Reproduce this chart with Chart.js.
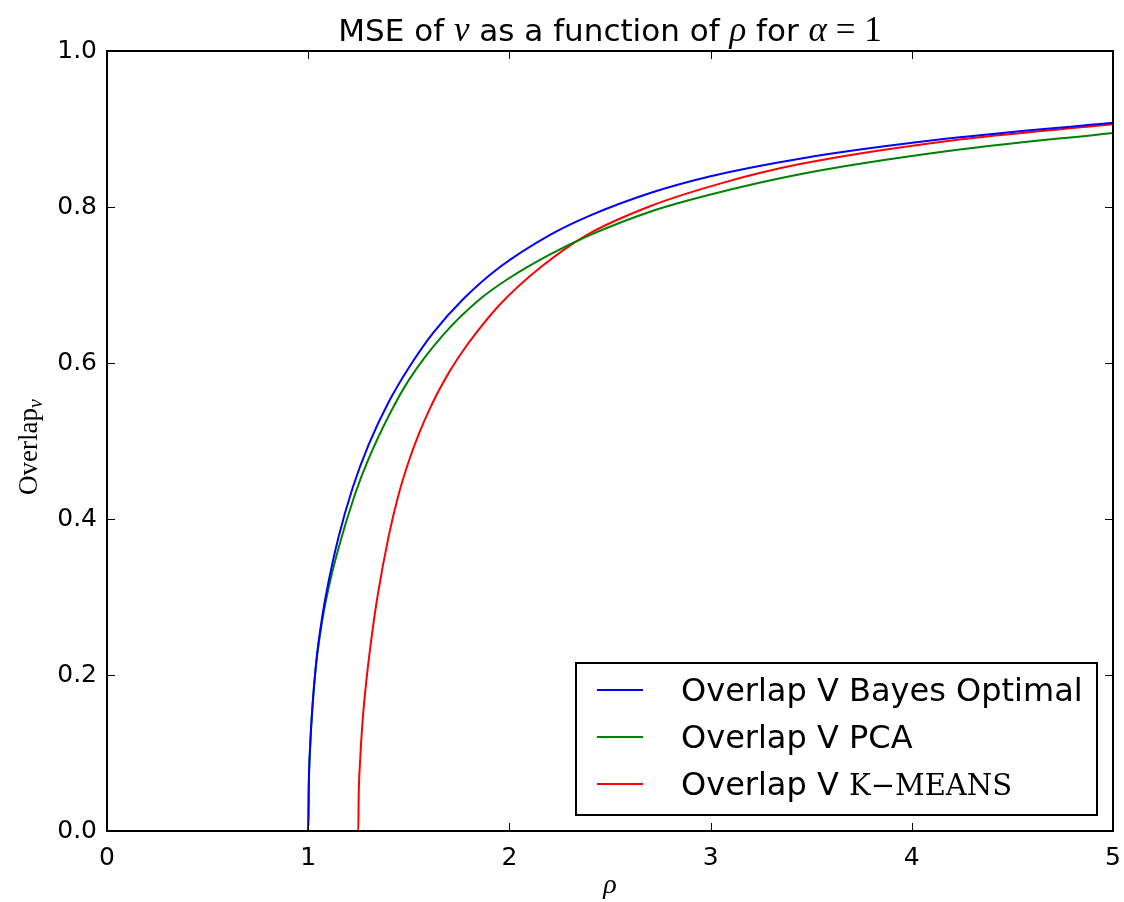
<!DOCTYPE html>
<html>
<head>
<meta charset="utf-8">
<script src="https://cdn.jsdelivr.net/npm/chart.js@4.4.1/dist/chart.umd.min.js"></script>
<style>
  html, body { margin: 0; padding: 0; background: #fff; }
  #wrap { width: 1124px; height: 902px; }
</style>
</head>
<body>
<div id="wrap"><canvas id="overlapChart" width="1124" height="902"></canvas></div>
<script>
const ctx = document.getElementById('overlapChart').getContext('2d');

// values
const xTicks = [0, 1, 2, 3, 4, 5];
const yTicks = [0.0, 0.2, 0.4, 0.6, 0.8, 1.0];

const bayesRho = [0, 1.0, 1.003, 1.01, 1.02, 1.04, 1.07, 1.1, 1.15, 1.221, 1.3, 1.4, 1.5, 1.622, 1.771, 1.953, 2.2, 2.4, 2.7, 3.0, 3.444, 4.19, 5.0];
const bayesVal = [0, 0, 0.06, 0.11, 0.155, 0.217, 0.275, 0.318, 0.376, 0.44, 0.495, 0.55, 0.594, 0.639, 0.682, 0.723, 0.764, 0.789, 0.818, 0.8395, 0.862, 0.888, 0.908];

const pcaRho = [0, 1.0, 1.003, 1.01, 1.02, 1.04, 1.07, 1.1, 1.15, 1.233, 1.3, 1.4, 1.5, 1.671, 1.854, 2.0, 2.2, 2.4, 2.7, 3.0, 3.444, 4.19, 5.0];
const pcaVal = [0, 0, 0.06, 0.11, 0.155, 0.215, 0.27, 0.31, 0.362, 0.432, 0.477, 0.532, 0.578, 0.636, 0.682, 0.709, 0.739, 0.764, 0.794, 0.816, 0.842, 0.872, 0.895];

const kmeansRho = [0, 1.249, 1.251, 1.257, 1.27, 1.29, 1.32, 1.344, 1.4, 1.45, 1.5, 1.55, 1.6, 1.65, 1.7, 1.768, 1.83, 1.953, 2.152, 2.384, 2.699, 3.047, 3.444, 4.19, 5.0];
const kmeansVal = [0, 0, 0.045, 0.085, 0.14, 0.195, 0.258, 0.3, 0.378, 0.432, 0.474, 0.509, 0.539, 0.565, 0.588, 0.615, 0.637, 0.675, 0.722, 0.764, 0.801, 0.83, 0.855, 0.885, 0.906];

const seriesLabels = ['Overlap V Bayes Optimal', 'Overlap V PCA', 'Overlap V '];
const seriesColors = ['#0000ff', '#008000', '#ff0000'];

const SANS = '"DejaVu Sans", sans-serif';
const SERIF = '"Liberation Serif", "DejaVu Serif", serif';

function pts(xs, ys) {
  return xs.map((x, i) => ({ x: x, y: ys[i] }));
}

// draw a run of text pieces in different fonts, starting at x
function drawRuns(c, runs, x, y) {
  runs.forEach(r => {
    c.font = r.font;
    c.fillText(r.text, x, y + (r.dy || 0));
    x += c.measureText(r.text).width;
  });
  return x;
}
function runsWidth(c, runs) {
  let w = 0;
  runs.forEach(r => { c.font = r.font; w += c.measureText(r.text).width; });
  return w;
}

const decorations = {
  id: 'decorations',
  afterDraw(chart) {
    const c = chart.ctx;
    const a = chart.chartArea;
    const xs = chart.scales.x, ys = chart.scales.y;
    c.save();

    // tick marks pointing inwards on all four sides
    c.strokeStyle = '#000';
    c.lineWidth = 1;
    const tl = 8;
    c.beginPath();
    xTicks.forEach(t => {
      const px = Math.round(xs.getPixelForValue(t)) + 0.5;
      c.moveTo(px, a.bottom); c.lineTo(px, a.bottom - tl);
      c.moveTo(px, a.top); c.lineTo(px, a.top + tl);
    });
    yTicks.forEach(t => {
      const py = Math.round(ys.getPixelForValue(t)) + 0.5;
      c.moveTo(a.left, py); c.lineTo(a.left + tl, py);
      c.moveTo(a.right, py); c.lineTo(a.right - tl, py);
    });
    c.stroke();

    // frame
    c.lineWidth = 2;
    c.strokeRect(a.left, a.top, a.right - a.left, a.bottom - a.top);

    // title with math pieces
    c.fillStyle = '#000';
    c.textBaseline = 'alphabetic';
    c.textAlign = 'left';
    const tf = '31px ' + SANS;
    const mf = 'italic 35px ' + SERIF;
    const rf = '35px ' + SERIF;
    const title = [
      { text: 'MSE of ', font: tf },
      { text: 'v', font: mf },
      { text: ' as a function of ', font: tf },
      { text: 'ρ', font: mf },
      { text: ' for ', font: tf },
      { text: 'α', font: mf },
      { text: ' = 1', font: rf }
    ];
    const tw = runsWidth(c, title);
    drawRuns(c, title, (a.left + a.right) / 2 - tw / 2, 41);

    // x axis title
    c.font = 'italic 28px ' + SERIF;
    c.textAlign = 'center';
    c.fillText('ρ', (a.left + a.right) / 2, 893);

    // y axis title, rotated
    c.save();
    c.translate(37, (a.top + a.bottom) / 2 + 6);
    c.rotate(-Math.PI / 2);
    const ylab = [
      { text: 'Overlap', font: '27px ' + SERIF },
      { text: 'v', font: 'italic 20px ' + SERIF, dy: 5 }
    ];
    c.textAlign = 'left';
    drawRuns(c, ylab, -runsWidth(c, ylab) / 2, 0);
    c.restore();

    // legend box in lower right
    const bx = 576, by = 663, bw = 521, bh = 152;
    c.fillStyle = '#fff';
    c.fillRect(bx, by, bw, bh);
    c.strokeStyle = '#000';
    c.lineWidth = 2;
    c.strokeRect(bx, by, bw, bh);
    const rows = [690, 737, 784];
    c.textAlign = 'left';
    rows.forEach((ry, i) => {
      c.strokeStyle = seriesColors[i];
      c.lineWidth = 2;
      c.beginPath();
      c.moveTo(597, ry); c.lineTo(643, ry);
      c.stroke();
      c.fillStyle = '#000';
      const runs = [{ text: seriesLabels[i], font: '32px ' + SANS }];
      if (i === 2) runs.push({ text: 'K−MEANS', font: '29px "DejaVu Serif", serif' });
      drawRuns(c, runs, 681, ry + 11);
    });

    c.restore();
  }
};

new Chart(ctx, {
  type: 'line',
  data: {
    datasets: [
      { label: seriesLabels[0], data: pts(bayesRho, bayesVal), borderColor: seriesColors[0] },
      { label: seriesLabels[1], data: pts(pcaRho, pcaVal), borderColor: seriesColors[1] },
      { label: seriesLabels[2] + 'K−MEANS', data: pts(kmeansRho, kmeansVal), borderColor: seriesColors[2] }
    ].map(d => Object.assign(d, {
      borderWidth: 2,
      pointRadius: 0,
      fill: false,
      cubicInterpolationMode: 'monotone'
    }))
  },
  options: {
    responsive: false,
    animation: false,
    layout: { padding: { top: 51, right: 11, left: 0, bottom: 0 } },
    plugins: {
      legend: { display: false },
      title: { display: false },
      tooltip: { enabled: false }
    },
    scales: {
      x: {
        type: 'linear',
        min: 0,
        max: 5,
        afterFit: s => { s.height = 71; s.paddingLeft = 0; s.paddingRight = 0; },
        afterBuildTicks: s => { s.ticks = xTicks.map(v => ({ value: v })); },
        grid: { display: false, drawTicks: false },
        border: { display: false },
        ticks: {
          color: '#000',
          padding: 12,
          font: { family: 'DejaVu Sans', size: 25 },
          callback: v => String(v)
        }
      },
      y: {
        type: 'linear',
        min: 0,
        max: 1,
        afterFit: s => { s.width = 107; s.paddingTop = 0; s.paddingBottom = 0; },
        afterBuildTicks: s => { s.ticks = yTicks.map(v => ({ value: v })); },
        grid: { display: false, drawTicks: false },
        border: { display: false },
        ticks: {
          color: '#000',
          padding: 10,
          font: { family: 'DejaVu Sans', size: 25 },
          callback: v => Number(v).toFixed(1)
        }
      }
    }
  },
  plugins: [decorations]
});
</script>
</body>
</html>
